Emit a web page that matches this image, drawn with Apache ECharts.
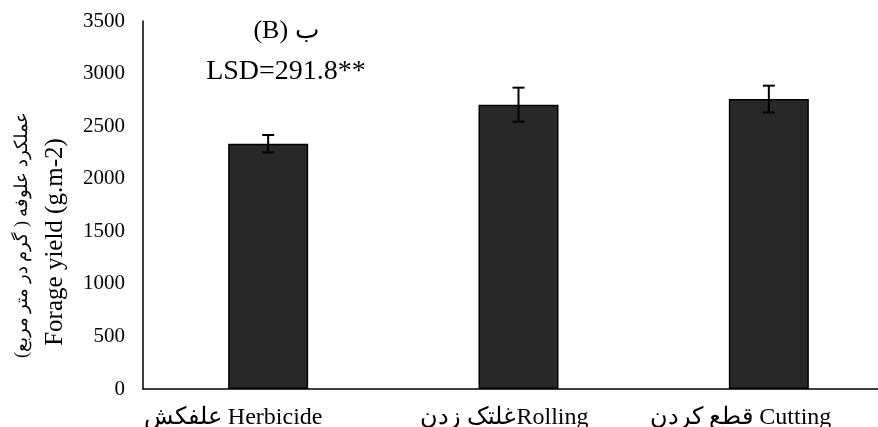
<!DOCTYPE html>
<html>
<head>
<meta charset="utf-8">
<script src="https://cdn.jsdelivr.net/npm/echarts@6/dist/echarts.min.js"></script>
<style>
  html, body { margin: 0; padding: 0; background: #fff; }
  #chart { width: 878px; height: 427px; }
</style>
</head>
<body>
<div id="chart"></div>
<script>
// Forage yield by weed-control treatment
const categories = ['علفکش Herbicide', 'غلتک زدنRolling', 'قطع کردن Cutting'];
const yieldMean = [2333, 2704, 2758];
const yieldErr = [83, 162, 127];
const yTickLabels = ['0', '500', '1000', '1500', '2000', '2500', '3000', '3500'];
const panelTitle = '(B) ب';
const lsdText = 'LSD=291.8**';
const yNameFa = 'عملکرد علوفه ( گرم در متر مربع)';
const yNameEn = 'Forage yield (g.m-2)';

const serif = '"Liberation Serif", "Times New Roman", serif';
const yMin = Number(yTickLabels[0]);
const yMax = Number(yTickLabels[yTickLabels.length - 1]);
const yStep = Number(yTickLabels[1]) - yMin;

// Horizontal nudges of the category labels (right padding shifts a centred label left)
const labelPad = [70, 28, 56];
const rich = {};
labelPad.forEach((p, i) => {
  rich['c' + i] = {
    fontFamily: serif, fontSize: 24, color: '#000',
    padding: [0, p, 0, 0]
  };
});

const chart = echarts.init(document.getElementById('chart'), null, { renderer: 'canvas' });

chart.setOption({
  animation: false,
  backgroundColor: '#fff',
  grid: { left: 143, right: -16, top: 21, bottom: 38, containLabel: false, outerBoundsMode: 'none' },
  xAxis: {
    type: 'category',
    data: categories,
    axisLine: { show: true, lineStyle: { color: '#000', width: 1.5 } },
    axisTick: { show: false },
    axisLabel: {
      margin: 17,
      interval: 0,
      formatter: (value, index) => '{c' + index + '|' + value + '}',
      rich: rich
    },
    splitLine: { show: false }
  },
  yAxis: {
    type: 'value',
    min: yMin,
    max: yMax,
    interval: yStep,
    axisLine: { show: true, lineStyle: { color: '#000', width: 1.5 } },
    axisTick: { show: false },
    splitLine: { show: false },
    axisLabel: {
      margin: 18,
      color: '#000',
      fontFamily: serif,
      fontSize: 21,
      formatter: (v) => String(v)
    }
  },
  series: [
    {
      type: 'bar',
      data: yieldMean,
      barWidth: 80,
      itemStyle: { color: '#282828', borderColor: '#000', borderWidth: 1.5 },
      z: 2
    },
    {
      type: 'custom',
      z: 5,
      data: yieldMean.map((m, i) => [i, m, yieldErr[i]]),
      renderItem: (params, api) => {
        const i = api.value(0);
        const m = api.value(1);
        const e = api.value(2);
        const top = api.coord([i, m + e]);
        const bot = api.coord([i, m - e]);
        const hw = 6;
        const st = { stroke: '#000', lineWidth: 2 };
        return {
          type: 'group',
          children: [
            { type: 'line', shape: { x1: top[0], y1: top[1], x2: bot[0], y2: bot[1] }, style: st },
            { type: 'line', shape: { x1: top[0] - hw, y1: top[1], x2: top[0] + hw, y2: top[1] }, style: st },
            { type: 'line', shape: { x1: bot[0] - hw, y1: bot[1], x2: bot[0] + hw, y2: bot[1] }, style: st }
          ]
        };
      }
    }
  ],
  graphic: [
    {
      type: 'text', x: 286, y: 31,
      style: { text: panelTitle, font: '26px ' + serif, fill: '#000',
               align: 'center', verticalAlign: 'middle', textAlign: 'center', textVerticalAlign: 'middle' }
    },
    {
      type: 'text', x: 286, y: 72,
      style: { text: lsdText, font: '28px ' + serif, fill: '#000',
               align: 'center', verticalAlign: 'middle', textAlign: 'center', textVerticalAlign: 'middle' }
    },
    {
      type: 'text', x: 22, y: 235, rotation: Math.PI / 2,
      style: { text: '\u202B' + yNameFa + '\u202C', font: '18px ' + serif, fill: '#000',
               align: 'center', verticalAlign: 'middle', textAlign: 'center', textVerticalAlign: 'middle' }
    },
    {
      type: 'text', x: 55, y: 242, rotation: Math.PI / 2,
      style: { text: yNameEn, font: '25px ' + serif, fill: '#000',
               align: 'center', verticalAlign: 'middle', textAlign: 'center', textVerticalAlign: 'middle' }
    }
  ]
});
</script>
</body>
</html>
